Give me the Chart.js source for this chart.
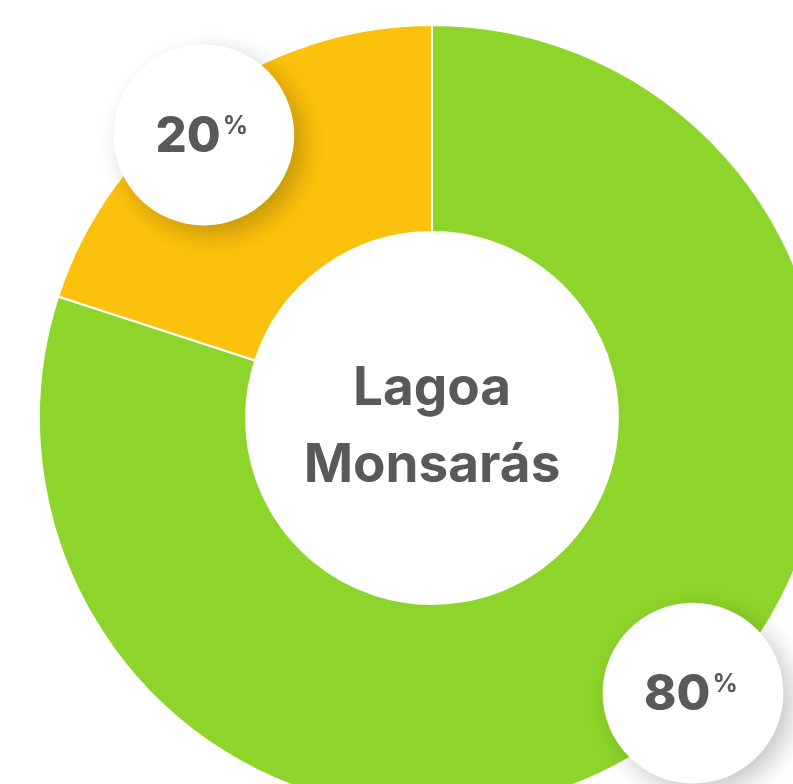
<!DOCTYPE html>
<html>
<head>
<meta charset="utf-8">
<script src="https://cdn.jsdelivr.net/npm/chart.js@4"></script>
<style>
  html, body { margin: 0; padding: 0; width: 793px; height: 784px; overflow: hidden; background: #ffffff; }
  #wrap { position: absolute; left: 38px; top: 24px; width: 788px; height: 788px; }
</style>
</head>
<body>
<div id="wrap"><canvas id="c"></canvas></div>
<script>
const categories = ["Lagoa Monsarás (80%)", "Outros (20%)"];
const values = [80, 20];
const valueLabels = ["80", "20"];
const centerLines = ["Lagoa", "Monsarás"];
const colors = ["#8DD52A", "#FCC10C"];

const textColor = "#58595B";
const fontFamily = "Inter, 'Noto Sans', sans-serif";

const labelPlugin = {
  id: 'bubbleLabels',
  afterDatasetsDraw(chart, args, opts) {
    const ctx = chart.ctx;
    const meta = chart.getDatasetMeta(0);
    const place = opts.place;
    const a0 = meta.data[0];
    const cx = a0.x, cy = a0.y;
    ctx.save();
    ctx.fillStyle = textColor;
    ctx.textAlign = 'center';
    ctx.textBaseline = 'alphabetic';
    ctx.font = "700 53px " + fontFamily;
    ctx.fillText(centerLines[0], cx, cy - 13);
    ctx.fillText(centerLines[1], cx, cy + 64);
    ctx.restore();

    meta.data.forEach((arc, i) => {
      const p = place[i];
      const ang = arc.startAngle + p.t * (arc.endAngle - arc.startAngle);
      const rr = arc.outerRadius * p.r;
      const x = arc.x + Math.cos(ang) * rr;
      const y = arc.y + Math.sin(ang) * rr;
      const br = arc.outerRadius * 0.23;
      ctx.save();
      ctx.shadowColor = 'rgba(0,0,0,0.22)';
      ctx.shadowBlur = 24;
      ctx.shadowOffsetX = 9;
      ctx.shadowOffsetY = 9;
      ctx.beginPath();
      ctx.arc(x, y, br, 0, Math.PI * 2);
      ctx.fillStyle = '#ffffff';
      ctx.fill();
      ctx.restore();

      ctx.save();
      ctx.fillStyle = textColor;
      ctx.textBaseline = 'alphabetic';
      ctx.textAlign = 'left';
      const big = "800 49px " + fontFamily;
      const small = "700 25px " + fontFamily;
      ctx.font = big;
      const w1 = ctx.measureText(valueLabels[i]).width;
      ctx.font = small;
      const w2 = ctx.measureText('%').width;
      const total = w1 + 2 + w2;
      const sx = x - total / 2 - 2;
      ctx.font = big;
      ctx.fillText(valueLabels[i], sx, y + 17);
      ctx.font = small;
      ctx.fillText('%', sx + w1 + 2, y - 1);
      ctx.restore();
    });
  }
};

new Chart(document.getElementById('c'), {
  type: 'doughnut',
  data: {
    labels: categories,
    datasets: [{
      data: values,
      backgroundColor: colors,
      borderColor: '#ffffff',
      borderWidth: 2,
      hoverOffset: 0
    }]
  },
  options: {
    responsive: true,
    maintainAspectRatio: false,
    animation: false,
    cutout: '47.3%',
    layout: { padding: 0 },
    plugins: {
      legend: { display: false },
      tooltip: { enabled: false },
      bubbleLabels: { place: [ { t: 0.474, r: 0.965 }, { t: 0.46, r: 0.925 } ] }
    }
  },
  plugins: [labelPlugin]
});
</script>
</body>
</html>
